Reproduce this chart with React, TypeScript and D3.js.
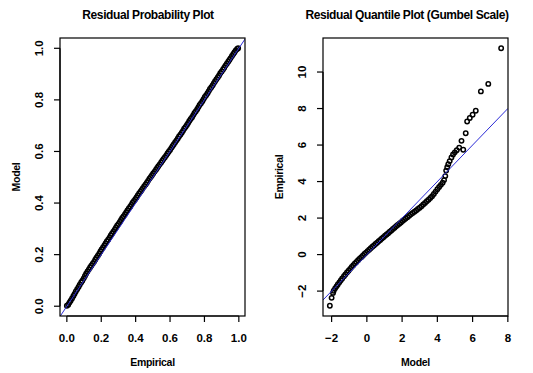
import React from 'react';
import * as d3 from 'd3';

// left panel: residual probability plot (empirical prob vs model prob)
const probEmpirical = [
  0.000, 0.008, 0.015, 0.022, 0.030, 0.038, 0.045, 0.052, 0.060, 0.068,
  0.075, 0.083, 0.090, 0.098, 0.105, 0.112, 0.120, 0.128, 0.135, 0.142,
  0.150, 0.158, 0.165, 0.172, 0.180, 0.188, 0.195, 0.202, 0.210, 0.218,
  0.225, 0.232, 0.240, 0.248, 0.255, 0.262, 0.270, 0.278, 0.285, 0.292,
  0.300, 0.308, 0.315, 0.322, 0.330, 0.338, 0.345, 0.352, 0.360, 0.368,
  0.375, 0.382, 0.390, 0.398, 0.405, 0.412, 0.420, 0.428, 0.435, 0.442,
  0.450, 0.458, 0.465, 0.472, 0.480, 0.488, 0.495, 0.502, 0.510, 0.518,
  0.525, 0.532, 0.540, 0.548, 0.555, 0.562, 0.570, 0.578, 0.585, 0.592,
  0.600, 0.608, 0.615, 0.622, 0.630, 0.638, 0.645, 0.652, 0.660, 0.668,
  0.675, 0.682, 0.690, 0.698, 0.705, 0.712, 0.720, 0.728, 0.735, 0.742,
  0.750, 0.758, 0.765, 0.772, 0.780, 0.788, 0.795, 0.802, 0.810, 0.818,
  0.825, 0.832, 0.840, 0.848, 0.855, 0.862, 0.870, 0.878, 0.885, 0.892,
  0.900, 0.908, 0.915, 0.922, 0.930, 0.938, 0.945, 0.952, 0.960, 0.968,
  0.975, 0.982, 0.990, 0.996,
];
const probModel = [
  0.002, 0.006, 0.014, 0.021, 0.030, 0.040, 0.048, 0.057, 0.066, 0.075,
  0.083, 0.092, 0.099, 0.108, 0.117, 0.126, 0.135, 0.143, 0.150, 0.157,
  0.165, 0.172, 0.180, 0.188, 0.196, 0.204, 0.212, 0.220, 0.228, 0.236,
  0.243, 0.251, 0.258, 0.266, 0.274, 0.281, 0.289, 0.297, 0.304, 0.312,
  0.319, 0.327, 0.334, 0.342, 0.349, 0.357, 0.364, 0.371, 0.379, 0.386,
  0.393, 0.401, 0.408, 0.415, 0.422, 0.429, 0.437, 0.444, 0.451, 0.458,
  0.465, 0.472, 0.479, 0.486, 0.494, 0.501, 0.508, 0.515, 0.522, 0.529,
  0.536, 0.543, 0.550, 0.557, 0.564, 0.571, 0.578, 0.585, 0.592, 0.599,
  0.606, 0.614, 0.621, 0.628, 0.636, 0.643, 0.650, 0.658, 0.665, 0.673,
  0.680, 0.688, 0.695, 0.703, 0.710, 0.718, 0.726, 0.733, 0.741, 0.749,
  0.756, 0.764, 0.772, 0.780, 0.787, 0.795, 0.803, 0.811, 0.818, 0.826,
  0.834, 0.842, 0.849, 0.857, 0.865, 0.872, 0.880, 0.888, 0.895, 0.903,
  0.910, 0.918, 0.925, 0.933, 0.940, 0.948, 0.955, 0.962, 0.970, 0.978,
  0.985, 0.992, 0.997, 1.000,
];

// right panel: residual quantile plot on gumbel scale (model vs empirical)
const gumbelModel = [
  -2.10, -2.00, -1.92, -1.88, -1.80, -1.72, -1.65, -1.56, -1.48, -1.40,
  -1.30, -1.22, -1.13, -1.04, -0.95, -0.86, -0.77, -0.68, -0.59, -0.50,
  -0.41, -0.32, -0.23, -0.14, -0.05, 0.04, 0.13, 0.22, 0.31, 0.40,
  0.49, 0.58, 0.67, 0.76, 0.85, 0.94, 1.03, 1.12, 1.21, 1.30,
  1.39, 1.48, 1.57, 1.66, 1.75, 1.84, 1.93, 2.02, 2.11, 2.20,
  2.30, 2.40, 2.50, 2.60, 2.70, 2.80, 2.90, 3.00, 3.10, 3.20,
  3.30, 3.40, 3.50, 3.60, 3.70, 3.80, 3.90, 4.00, 4.10, 4.20,
  4.30, 4.38, 4.45, 4.50, 4.56, 4.62, 4.70, 4.80, 4.89, 4.99,
  5.10, 5.24, 5.37, 5.47, 5.61, 5.69, 5.84, 6.00, 6.18, 6.47,
  6.89, 7.62,
];
const gumbelEmpirical = [
  -2.80, -2.37, -2.10, -1.98, -1.85, -1.74, -1.64, -1.52, -1.41, -1.31,
  -1.19, -1.09, -0.98, -0.88, -0.78, -0.68, -0.58, -0.49, -0.40, -0.31,
  -0.22, -0.14, -0.06, 0.03, 0.11, 0.19, 0.27, 0.35, 0.43, 0.50,
  0.58, 0.65, 0.73, 0.80, 0.88, 0.95, 1.03, 1.10, 1.17, 1.25,
  1.32, 1.40, 1.47, 1.55, 1.62, 1.69, 1.76, 1.84, 1.91, 1.98,
  2.05, 2.13, 2.21, 2.28, 2.35, 2.42, 2.50, 2.57, 2.65, 2.74,
  2.83, 2.92, 3.00, 3.10, 3.20, 3.32, 3.45, 3.58, 3.70, 3.82,
  3.94, 4.08, 4.30, 4.60, 4.78, 4.95, 5.12, 5.32, 5.48, 5.60,
  5.72, 5.86, 6.23, 5.74, 6.65, 7.29, 7.48, 7.66, 7.88, 8.94,
  9.35, 11.30,
];

const probTicks = [0, 0.2, 0.4, 0.6, 0.8, 1.0];
const gumbelXTicks = [-2, 0, 2, 4, 6, 8];
const gumbelYTicks = [-2, 0, 2, 4, 6, 8, 10];

// abline(0, 1)
const refIntercept = 0;
const refSlope = 1;

const FONT = '"Liberation Sans", Arial, sans-serif';

// R style axis range: data extent padded by 4%
const rDomain = (v: number[]) => {
  const [lo, hi] = d3.extent(v) as [number, number];
  const pad = (hi - lo) * 0.04;
  return [lo - pad, hi + pad];
};

type PanelProps = {
  id: string;
  xs: number[];
  ys: number[];
  xTicks: number[];
  yTicks: number[];
  fmt: (v: number) => string;
  title: string;
  titleX: number;
  xLabel: string;
  yLabel: string;
  left: number;
  right: number;
  top: number;
  bottom: number;
};

const Panel = (p: PanelProps) => {
  const x = d3.scaleLinear().domain(rDomain(p.xs)).range([p.left, p.right]);
  const y = d3.scaleLinear().domain(rDomain(p.ys)).range([p.bottom, p.top]);
  const [x0, x1] = x.domain();
  const xt = p.xTicks.filter(t => t >= x0 - 1e-9 && t <= x1 + 1e-9);
  const yt = p.yTicks.filter(t => t >= y.domain()[0] && t <= y.domain()[1]);
  const tick = 6;
  const cx = (p.left + p.right) / 2;
  const cy = (p.top + p.bottom) / 2;

  return (
    <g>
      <defs>
        <clipPath id={p.id}>
          <rect x={p.left} y={p.top} width={p.right - p.left} height={p.bottom - p.top} />
        </clipPath>
      </defs>

      <text x={p.titleX} y={19} textAnchor="middle" fontFamily={FONT} fontWeight="bold"
        fontSize={12} letterSpacing={-0.4}>{p.title}</text>

      {/* points */}
      <g clipPath={`url(#${p.id})`}>
        {p.xs.map((v, i) => (
          <circle key={i} cx={x(v)} cy={y(p.ys[i])} r={2.2} fill="none" stroke="#000" strokeWidth={1.5} />
        ))}
        <line x1={x(x0)} y1={y(refIntercept + refSlope * x0)} x2={x(x1)} y2={y(refIntercept + refSlope * x1)}
          stroke="#2b2bd6" strokeWidth={1} />
      </g>

      <rect x={p.left} y={p.top} width={p.right - p.left} height={p.bottom - p.top}
        fill="none" stroke="#000" strokeWidth={1.2} />

      {/* x axis */}
      <line x1={x(xt[0])} x2={x(xt[xt.length - 1])} y1={p.bottom} y2={p.bottom} stroke="#000" strokeWidth={1.2} />
      {xt.map(t => (
        <g key={`x${t}`}>
          <line x1={x(t)} x2={x(t)} y1={p.bottom} y2={p.bottom + tick} stroke="#000" strokeWidth={1.2} />
          <text x={x(t)} y={p.bottom + 26} textAnchor="middle" fontFamily={FONT} fontWeight="bold" fontSize={11.5}>
            {p.fmt(t)}
          </text>
        </g>
      ))}

      {/* y axis */}
      <line x1={p.left} x2={p.left} y1={y(yt[0])} y2={y(yt[yt.length - 1])} stroke="#000" strokeWidth={1.2} />
      {yt.map(t => (
        <g key={`y${t}`}>
          <line x1={p.left} x2={p.left - tick} y1={y(t)} y2={y(t)} stroke="#000" strokeWidth={1.2} />
          <text transform={`translate(${p.left - 17},${y(t)}) rotate(-90)`} textAnchor="middle"
            fontFamily={FONT} fontWeight="bold" fontSize={11.5}>
            {p.fmt(t)}
          </text>
        </g>
      ))}

      <text x={cx} y={p.bottom + 50} textAnchor="middle" fontFamily={FONT} fontWeight="bold" fontSize={10.5}
        letterSpacing={-0.3}>{p.xLabel}</text>
      <text transform={`translate(${p.left - 40},${cy}) rotate(-90)`} textAnchor="middle" fontFamily={FONT}
        fontWeight="bold" fontSize={10.5} letterSpacing={-0.3}>{p.yLabel}</text>
    </g>
  );
};

export default function App() {
  return (
    <svg width={533} height={373} style={{ position: 'absolute', left: 0, top: 0, background: '#fff' }}>
      <rect width={533} height={373} fill="#fff" />
      <Panel id="clipProb" xs={probEmpirical} ys={probModel} xTicks={probTicks} yTicks={probTicks}
        fmt={d3.format('.1f')} title="Residual Probability Plot" titleX={148}
        xLabel="Empirical" yLabel="Model" left={60} right={245} top={38} bottom={316} />
      <Panel id="clipGumbel" xs={gumbelModel} ys={gumbelEmpirical} xTicks={gumbelXTicks} yTicks={gumbelYTicks}
        fmt={d3.format('d')} title="Residual Quantile Plot (Gumbel Scale)" titleX={407}
        xLabel="Model" yLabel="Empirical" left={323} right={508} top={38} bottom={316} />
    </svg>
  );
}
